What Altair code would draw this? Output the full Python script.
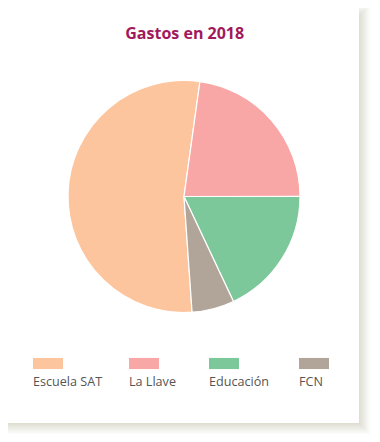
import math
import altair as alt
import pandas as pd

# ---- data ----
names = ["Escuela SAT", "La Llave", "Educación", "FCN"]
values = [53.3, 22.8, 18.0, 5.9]
colors = ["#fdc59e", "#f9a6a7", "#7cc89b", "#b1a59a"]
title_text = "Gastos en 2018"

# ---- layout (chart coords; page offset 8px) ----
W, H = 364, 426
start = math.radians(176)
legend_left = [25, 121, 201, 291]

df = pd.DataFrame({"name": names, "value": values, "idx": list(range(len(names)))})
one = pd.DataFrame({"t": [title_text]})

layers = []

# card shadow (stacked translucent rects to fake a blur)
card = dict(x0=0, x1=351, y0=0, y1=415)
off = 4
b = 7
for i in range(-b, b + 1):
    layers.append(
        alt.Chart(one).mark_rect(color="#7a6f60", opacity=0.022).encode(
            x=alt.value(0),
            x2=alt.value(card["x1"] + off - i),
            y=alt.value(max(0, card["y0"] + off + i)),
            y2=alt.value(card["y1"] + off - i),
        )
    )
# card
layers.append(
    alt.Chart(one).mark_rect(color="white").encode(
        x=alt.value(card["x0"]), x2=alt.value(card["x1"]),
        y=alt.value(card["y0"]), y2=alt.value(card["y1"]),
    )
)

color_scale = alt.Scale(domain=names, range=colors)

pie = alt.Chart(df).mark_arc(radius=116, stroke="white", strokeWidth=1.2).encode(
    theta=alt.Theta("value:Q", stack=True, scale=alt.Scale(range=[start, start + 2 * math.pi])),
    color=alt.Color("name:N", scale=color_scale, legend=None),
    order=alt.Order("idx:Q"),
    x=alt.value(176),
    y=alt.value(188.5),
)
layers.append(pie)

title = alt.Chart(one).mark_text(
    font="Open Sans", fontSize=16, fontWeight="bold", color="#a1195c",
    align="center", baseline="alphabetic",
).encode(text="t:N", x=alt.value(176.7), y=alt.value(30.5))
layers.append(title)

xscale = alt.Scale(domain=list(range(len(names))), range=legend_left)

leg_sym = alt.Chart(df).mark_point(
    shape="M-1,-0.37H1V0.37H-1Z", size=900, filled=True, opacity=1, strokeWidth=0, xOffset=15,
).encode(
    x=alt.X("idx:Q", scale=xscale, axis=None),
    y=alt.value(355.5),
    color=alt.Color("name:N", scale=color_scale, legend=None),
)
layers.append(leg_sym)

leg_txt = alt.Chart(df).mark_text(
    font="Open Sans", fontSize=12.6, color="#555555", align="left", baseline="alphabetic",
).encode(
    x=alt.X("idx:Q", scale=xscale, axis=None),
    y=alt.value(377.7),
    text="name:N",
)
layers.append(leg_txt)

chart = alt.layer(*layers).properties(
    width=W, height=H,
    autosize=alt.AutoSizeParams(type="fit", contains="padding"),
    padding=0,
    background="white",
).configure_view(stroke=None)

chart.save("out.html", embed_options={"renderer": "svg", "actions": False})
